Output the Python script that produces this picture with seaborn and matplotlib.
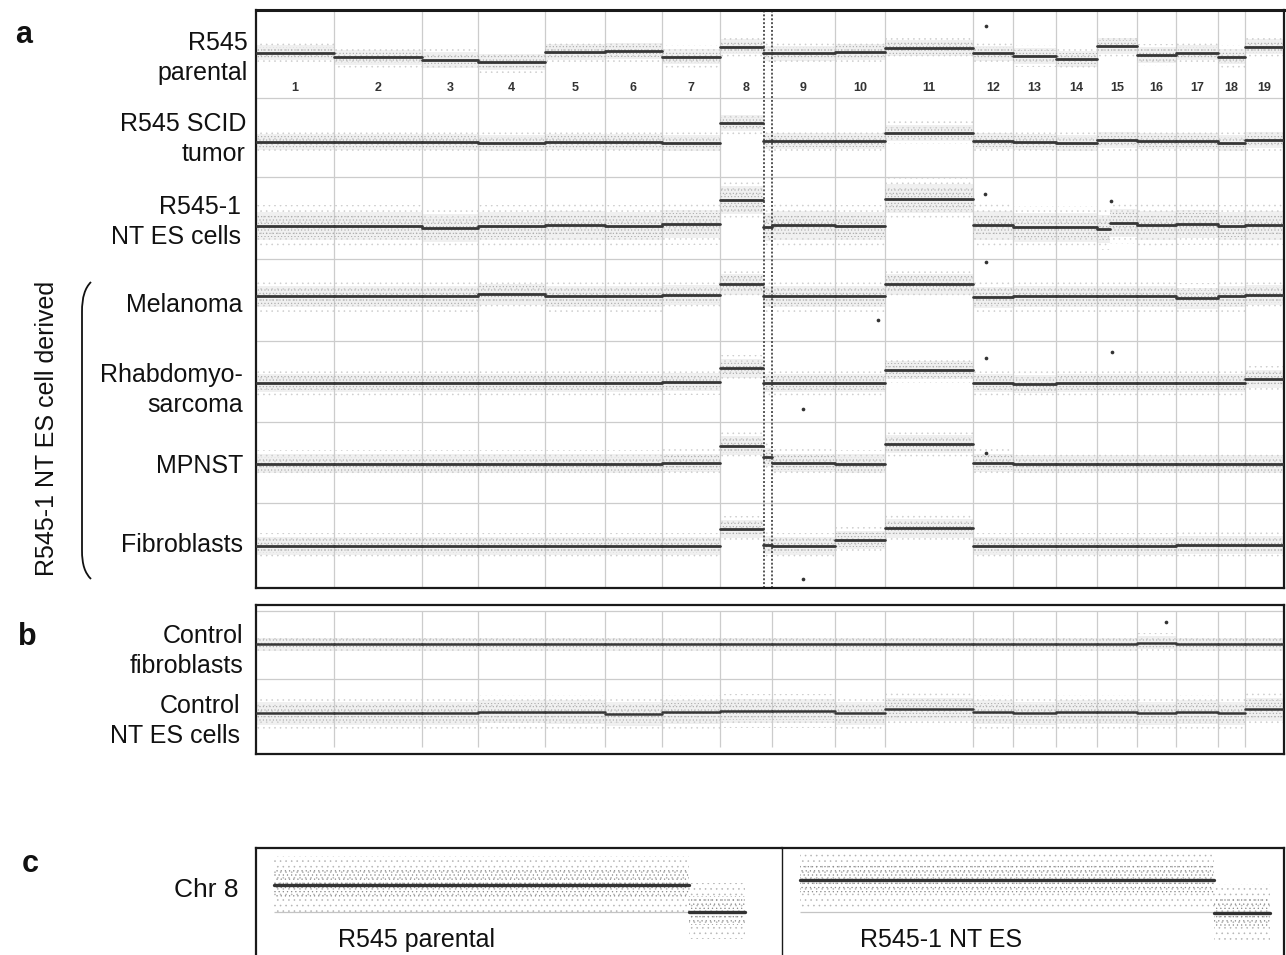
import pandas as pd
import seaborn as sns
import matplotlib.pyplot as plt
from matplotlib.path import Path
from matplotlib.patches import PathPatch

# ---------------------------------------------------------------- data
chromosomes = [str(i) for i in range(1, 20)]
# width of each chromosome on the array (probe bins)
chrom_width = [78, 88, 56, 67, 60, 57, 58, 52, 63, 50, 88, 40, 43, 41, 40, 39, 42, 27, 38]
chr8_breakpoint = 0.83          # fraction of chr 8 carrying the gain

# panel a: segmented log2 ratio per chromosome
samples_a = ["R545 parental", "R545 SCID tumor", "R545-1 NT ES cells",
             "Melanoma", "Rhabdomyosarcoma", "MPNST", "Fibroblasts"]
labels_a = [["R545", "parental"], ["R545 SCID", "tumor"], ["R545-1", "NT ES cells"],
            ["Melanoma"], ["Rhabdomyo-", "sarcoma"], ["MPNST"], ["Fibroblasts"]]
r545_parental = [0.06, -0.06, -0.125, -0.175, 0.075, 0.1, -0.04, 0.21, 0.04, 0.08,
                 0.17, 0.04, -0.025, -0.1, 0.22, 0.0, 0.06, -0.04, 0.21]
r545_scid = [0, 0, 0, -0.025, 0, 0, -0.02, 0.47, 0.02, 0.02,
             0.23, 0.03, 0, -0.02, 0.05, 0.02, 0.02, -0.02, 0.05]
r545_1_ntes = [0, 0, -0.05, 0, 0.02, 0, 0.05, 0.65, 0.02, 0,
               0.68, 0.02, -0.03, -0.03, 0.0, 0.02, 0.05, 0, 0.02]
melanoma = [0, 0, 0, 0.06, 0, 0, 0.04, 0.31, 0, 0,
            0.31, -0.02, 0, 0, 0, 0, -0.045, 0, 0.04]
rhabdo = [0, 0, 0, 0, 0, 0, 0.03, 0.37, 0.015, 0,
          0.33, 0.015, -0.02, 0, 0, 0, 0, 0, 0.1]
mpnst = [0, 0, 0, 0, 0, 0, 0.02, 0.45, 0.02, 0,
         0.48, 0.02, -0.01, -0.01, -0.01, -0.01, -0.01, -0.01, -0.01]
fibroblasts = [0, 0, 0, 0, 0, 0, 0, 0.42, 0, 0.15,
               0.44, 0, 0, 0, 0, 0, 0.02, 0.02, 0.02]
chr8_distal = [0.04, 0.02, -0.02, 0.0, 0.015, 0.17, 0.02]   # level beyond breakpoint
# sub-chromosomal segments (sample, chromosome, [(start, end, log2)])
partial_a = [("R545-1 NT ES cells", "15", [(0.0, 0.33, -0.07), (0.33, 1.0, 0.08)])]

# isolated outlier probes
out_sample = ["R545 parental", "R545-1 NT ES cells", "R545-1 NT ES cells", "Melanoma",
              "Melanoma", "Rhabdomyosarcoma", "Rhabdomyosarcoma", "Rhabdomyosarcoma",
              "MPNST", "Fibroblasts", "Control fibroblasts"]
out_chrom = ["12", "12", "15", "12", "10", "12", "15", "9", "12", "9", "16"]
out_pos = [0.33, 0.3, 0.35, 0.33, 0.86, 0.33, 0.38, 0.5, 0.33, 0.5, 0.74]
out_value = [0.72, 0.8, 0.63, 0.87, -0.59, 0.63, 0.77, -0.64, 0.26, -0.82, 0.55]

# panel b: controls
samples_b = ["Control fibroblasts", "Control NT ES cells"]
labels_b = [["Control", "fibroblasts"], ["Control", "NT ES cells"]]
control_fib = [0] * 15 + [0.03, 0, 0, 0]
control_ntes = [-0.03, -0.03, -0.03, 0.01, 0, -0.05, 0, 0.03, 0.03, -0.03,
                0.07, 0, -0.03, 0, 0, -0.03, 0, -0.03, 0.07]

# panel c: chromosome 8 detail (Mb)
chr8_length = 131.7
c_samples = ["R545 parental", "R545-1 NT ES"]
c_breakpoint = [116.0, 116.0]
c_gain = [0.60, 0.71]
c_distal = [0.0, -0.03]

# --------------------------------------------------------------- layout
W, H = 1286, 955
PX = 40.0                         # pixels per log2 unit in panels a/b
base_a = [55, 142, 226, 296.5, 383.3, 463.5, 546]
spread_a = [6, 6, 11, 8, 7, 7, 7]
sep_a = [98, 177, 259, 341, 422, 503]
base_b = [644, 712]
spread_b = [5, 9]

starts = [sum(chrom_width[:i]) for i in range(len(chrom_width))]
ends = [s + w for s, w in zip(starts, chrom_width)]

sns.set_style("white")
plt.rcParams['font.family'] = ['Liberation Sans', 'DejaVu Sans']
plt.rcParams['text.color'] = '#111111'
plt.rcParams['hatch.linewidth'] = 0.4

fig = plt.figure(figsize=(W / 100, H / 100), dpi=100)


def px_axes(x0, y0, x1, y1):
    return fig.add_axes([x0 / W, 1 - y1 / H, (x1 - x0) / W, (y1 - y0) / H])


def build_segments(names, values, distal=None, partial=()):
    rows = []
    seg = 0
    for r, name in enumerate(names):
        for c, chrom in enumerate(chromosomes):
            pieces = [(0.0, 1.0, values[r][c])]
            if distal is not None and chrom == "8":
                pieces = [(0.0, chr8_breakpoint, values[r][c]),
                          (chr8_breakpoint, 1.0, distal[r])]
            for s, ch, parts in partial:
                if s == name and ch == chrom:
                    pieces = parts
            for f0, f1, v in pieces:
                for f in (f0, f1):
                    rows.append(dict(sample=name, row=r, seg=seg,
                                     x=starts[c] + f * chrom_width[c], log2=v))
                seg += 1
    return pd.DataFrame(rows)


def band(ax, x0, x1, y0, y1, color, hatch):
    with plt.rc_context({'hatch.color': color}):
        ax.fill_between([x0, x1], y0, y1, facecolor='none', edgecolor=color,
                        hatch=hatch, linewidth=0, zorder=1)


def cloud(ax, df, bases, spreads):
    for _, g in df.groupby("seg"):
        r = g["row"].iloc[0]
        yc = bases[r] - g["log2"].iloc[0] * PX
        x0, x1 = g["x"].min(), g["x"].max()
        s = spreads[r]
        ax.fill_between([x0, x1], yc - 1.3 * s, yc + 1.3 * s, color='#f0f0f0',
                        linewidth=0, zorder=0.5)
        band(ax, x0, x1, yc - 1.9 * s, yc + 1.9 * s, '#cdcdcd', '...')
        band(ax, x0, x1, yc - s, yc + s, '#a8a8a8', '.....')


def frame(ax, lw=1.6):
    ax.set_xticks([])
    ax.set_yticks([])
    ax.set_xlabel("")
    ax.set_ylabel("")
    for sp in ax.spines.values():
        sp.set_visible(True)
        sp.set_color('#1a1a1a')
        sp.set_linewidth(lw)


def outliers(ax, names, bases):
    rows = []
    for s, ch, p, v in zip(out_sample, out_chrom, out_pos, out_value):
        if s in names:
            c = chromosomes.index(ch)
            rows.append(dict(x=starts[c] + p * chrom_width[c],
                             y=bases[names.index(s)] - v * PX))
    if rows:
        sns.scatterplot(data=pd.DataFrame(rows), x="x", y="y", ax=ax, s=7,
                        color='#333333', linewidth=0, zorder=4, legend=False)


# ---------------------------------------------------------------- panel a
ax_a = px_axes(256, 10, 1284, 588)
seg_a = build_segments(samples_a, [r545_parental, r545_scid, r545_1_ntes, melanoma,
                                   rhabdo, mpnst, fibroblasts],
                       distal=chr8_distal, partial=partial_a)
seg_a["y"] = [base_a[r] - v * PX for r, v in zip(seg_a["row"], seg_a["log2"])]
cloud(ax_a, seg_a, base_a, spread_a)
sns.lineplot(data=seg_a, x="x", y="y", units="seg", estimator=None, sort=False,
             color='#363636', linewidth=2.0, ax=ax_a, legend=False, zorder=3)
outliers(ax_a, samples_a, base_a)
i8 = chromosomes.index("8")
for b in ends[:-1]:
    if b != ends[i8]:
        ax_a.axvline(b, color='#cccccc', lw=0.9, zorder=0.8)
for b in (starts[i8] + chr8_breakpoint * chrom_width[i8] + 1, ends[i8]):
    ax_a.axvline(b, color='#555555', lw=1.4, ls=(0, (1, 1)), zorder=2)
for y in sep_a:
    ax_a.axhline(y, color='#cccccc', lw=0.9, zorder=0.8)
for c, chrom in enumerate(chromosomes):
    ax_a.text(starts[c] + chrom_width[c] / 2, 88, chrom, ha='center', va='center',
              fontsize=9, fontweight='bold', color='#333333')
ax_a.set_xlim(0, 1028)
ax_a.set_ylim(588, 10)
frame(ax_a)
ax_a.spines['top'].set_linewidth(2.2)

# ---------------------------------------------------------------- panel b
ax_b = px_axes(256, 605, 1284, 754)
seg_b = build_segments(samples_b, [control_fib, control_ntes])
seg_b["y"] = [base_b[r] - v * PX for r, v in zip(seg_b["row"], seg_b["log2"])]
cloud(ax_b, seg_b, base_b, spread_b)
sns.lineplot(data=seg_b, x="x", y="y", units="seg", estimator=None, sort=False,
             color='#363636', linewidth=1.8, ax=ax_b, legend=False, zorder=3)
outliers(ax_b, samples_b, base_b)
ax_b.vlines(ends[:-1], 611, 747, color='#cccccc', lw=0.9, zorder=0.8)
ax_b.hlines([611, 679], 0, 1028, color='#cccccc', lw=0.9, zorder=0.8)
ax_b.set_xlim(0, 1028)
ax_b.set_ylim(754, 605)
frame(ax_b)

# ---------------------------------------------------------------- panel c
ax_c1 = px_axes(256, 848, 782, 955)
ax_c2 = px_axes(782, 848, 1284, 955)
for i, ax in enumerate((ax_c1, ax_c2)):
    segs = pd.DataFrame(dict(seg=[0, 0, 1, 1],
                             x=[0, c_breakpoint[i], c_breakpoint[i], chr8_length],
                             log2=[c_gain[i], c_gain[i], c_distal[i], c_distal[i]]))
    for _, g in segs.groupby("seg"):
        x0, x1, v = g["x"].min(), g["x"].max(), g["log2"].iloc[0]
        band(ax, x0, x1, v - 0.6, v + 0.65, '#b4b4b4', '...')
        band(ax, x0, x1, v - 0.3, v + 0.35, '#8a8a8a', '....')
    ax.hlines(0, 0, chr8_length, color='#c4c4c4', lw=0.9, zorder=0.8)
    sns.lineplot(data=segs, x="x", y="log2", units="seg", estimator=None, sort=False,
                 color='#333333', linewidth=2.4, ax=ax, legend=False, zorder=3)
    ax.text(0.155, 0.075, c_samples[i], transform=ax.transAxes, fontsize=18,
            ha='left', va='baseline')
    ax.set_ylim(-0.956, 1.422)
    frame(ax)
    ax.spines['bottom'].set_visible(False)
ax_c1.set_xlim(-5, 142)
ax_c2.set_xlim(-5, 135.5)
ax_c1.spines['right'].set_visible(False)
ax_c2.spines['left'].set_linewidth(1.0)

# ---------------------------------------------------------------- labels
ov = fig.add_axes([0, 0, 1, 1])
ov.set_xlim(0, W)
ov.set_ylim(H, 0)
ov.axis('off')

label_right = [248, 246, 241, 243, 243, 243, 243]
label_base = [50, 131, 214, 311.5, 381.5, 472.5, 551.5]
for lines, xr, yb in zip(labels_a, label_right, label_base):
    for k, line in enumerate(lines):
        ov.text(xr, yb + 30 * k, line, ha='right', va='baseline', fontsize=18)
for lines, xr, yb in zip(labels_b, [243, 240], [643, 712.5]):
    for k, line in enumerate(lines):
        ov.text(xr, yb + 30 * k, line, ha='right', va='baseline', fontsize=18)
ov.text(239, 896.5, "Chr 8", ha='right', va='baseline', fontsize=19)

ov.text(15, 43, "a", fontsize=22, fontweight='bold', va='baseline')
ov.text(18, 645, "b", fontsize=22, fontweight='bold', va='baseline')
ov.text(22, 872, "c", fontsize=22, fontweight='bold', va='baseline')

ov.text(47, 428, "R545-1 NT ES cell derived", rotation=90, ha='center', va='center',
        fontsize=18)
brace = Path([(91, 282), (85, 288), (82, 297), (82, 312), (82, 550),
              (82, 565), (85, 573), (91, 579)],
             [Path.MOVETO, Path.CURVE4, Path.CURVE4, Path.CURVE4, Path.LINETO,
              Path.CURVE4, Path.CURVE4, Path.CURVE4])
ov.add_patch(PathPatch(brace, facecolor='none', edgecolor='#111111', lw=1.3))

fig.savefig("out.png", dpi=100, facecolor='white')
